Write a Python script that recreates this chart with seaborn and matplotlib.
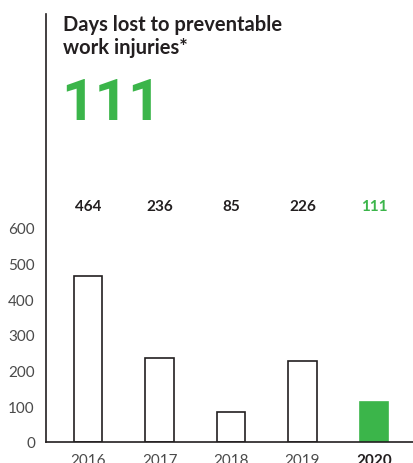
import matplotlib
matplotlib.use("Agg")
import matplotlib.pyplot as plt
import matplotlib.transforms as mtransforms
import seaborn as sns
import pandas as pd

# Data
years = ["2016", "2017", "2018", "2019", "2020"]
days_lost = [464, 236, 85, 226, 111]
highlight = "2020"
headline = "111"

GREEN = "#3bb54a"
DARK = "#231f20"
GREY = "#4a4a4a"

sns.set_theme(style="white")
plt.rcParams["font.family"] = ["Lato", "DejaVu Sans"]

df = pd.DataFrame({"year": years, "days": days_lost})
colors = [GREEN if y == highlight else "white" for y in years]

fig = plt.figure(figsize=(4.14, 4.64), dpi=100)
ax = fig.add_axes([46 / 414, 21 / 464, 368 / 414, 428 / 464])

sns.barplot(data=df, x="year", y="days", hue="year", palette=colors,
            legend=False, width=0.4, ax=ax, saturation=1)
for patch, y in zip(ax.patches, years):
    patch.set_edgecolor(GREEN if y == highlight else DARK)
    patch.set_linewidth(1.2)

ax.set_xlim(-0.59, 4.56)
ax.set_ylim(0, 1199)
ax.set_yticks(range(0, 700, 100))
ax.set_xlabel("")
ax.set_ylabel("")

for side in ["top", "right"]:
    ax.spines[side].set_visible(False)
for side in ["left", "bottom"]:
    ax.spines[side].set_color(DARK)
    ax.spines[side].set_linewidth(1.2)

ax.tick_params(axis="y", length=0, pad=8, labelsize=11, labelcolor=GREY)
ax.tick_params(axis="x", length=0, pad=8, labelsize=11, labelcolor=GREY)
for lbl in ax.get_xticklabels():
    if lbl.get_text() == highlight:
        lbl.set_fontweight("bold")
        lbl.set_color(DARK)

# value labels above the chart
trans = mtransforms.blended_transform_factory(ax.transData, ax.transAxes)
for i, (y, v) in enumerate(zip(years, days_lost)):
    ax.text(i, 0.552, str(v), transform=trans, ha="center", va="center",
            fontsize=11, fontweight="bold",
            color=GREEN if y == highlight else DARK)

# title block
ax.text(0.045, 0.910, "Days lost to preventable\nwork injuries*",
        transform=ax.transAxes, ha="left", va="baseline", fontsize=14.5,
        fontweight="bold", color=DARK, linespacing=1.15)
ax.text(0.04, 0.755, headline, transform=ax.transAxes, ha="left",
        va="baseline", fontsize=42, fontweight="bold", color=GREEN,
        family=["Roboto", "DejaVu Sans"])

fig.savefig("out.png", dpi=100)
